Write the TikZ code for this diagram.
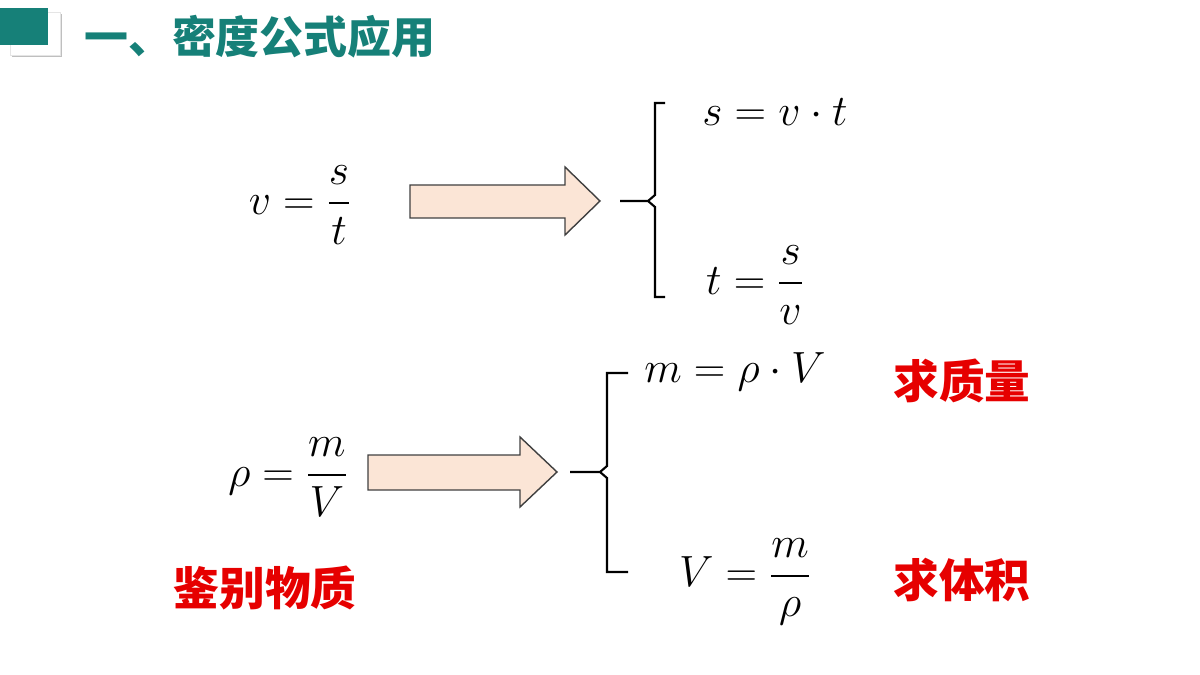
\documentclass[tikz,border=0pt]{standalone}
\usepackage{amsmath}
\usepackage{fontspec}
\newfontfamily\cjk{Noto Sans CJK SC}
\usetikzlibrary{calc}
\definecolor{teal1}{RGB}{22,128,120}
\definecolor{peach}{RGB}{251,229,214}
\definecolor{redtxt}{RGB}{230,0,0}
\tikzset{eq/.style={font=\fontsize{33}{38}\selectfont},
  note/.style={font=\cjk\bfseries\fontsize{26}{30}\selectfont, text=redtxt},
  fatarrow/.style={draw=black!75, fill=peach, line width=0.8pt}}

\begin{document}
\begin{tikzpicture}[x=0.02cm,y=-0.02cm]
\useasboundingbox (0,0) rectangle (1200,675);

% header
\fill[black!25] (12,14) rectangle (62,57);
\fill[white, draw=black!10] (10,12) rectangle (60,55);
\fill[teal1] (0,8) rectangle (48,45);
\node[font=\cjk\bfseries\fontsize{25}{30}\selectfont, text=teal1, anchor=west] (title) at (78,37) {一、密度公式应用};

% speed
\node[eq] (vst) at (300,205) {$v=\dfrac{s}{t}$};
\draw[fatarrow] (410,185) -- (565,185) -- (565,167) -- (600,201) -- (565,235) -- (565,218) -- (410,218) -- cycle;
\draw[line width=1.2pt] (665,103) -- (655,103) -- (655,195) -- (648,201) -- (620,201)
  (648,201) -- (655,207) -- (655,297) -- (665,297);
\node[eq] (svt) at (775,112) {$s=v\cdot t$};
\node[eq] (tsv) at (755,285) {$t=\dfrac{s}{v}$};

% density
\node[eq] (rmv) at (288,477) {$\rho=\dfrac{m}{V}$};
\draw[fatarrow] (368,455) -- (520,455) -- (520,437) -- (557,472) -- (520,507) -- (520,490) -- (368,490) -- cycle;
\draw[line width=1.2pt] (628,373) -- (607,373) -- (607,466) -- (600,472) -- (570,472)
  (600,472) -- (607,478) -- (607,572) -- (628,572);
\node[eq] (mrv) at (735,372) {$m=\rho\cdot V$};
\node[eq] (vmr) at (745,582) {$V=\dfrac{m}{\rho}$};

% notes
\node[note] (mass) at (962,381) {求质量};
\node[note] (vol) at (962,580) {求体积};
\node[note] (ident) at (265,588) {鉴别物质};
\end{tikzpicture}
\end{document}
